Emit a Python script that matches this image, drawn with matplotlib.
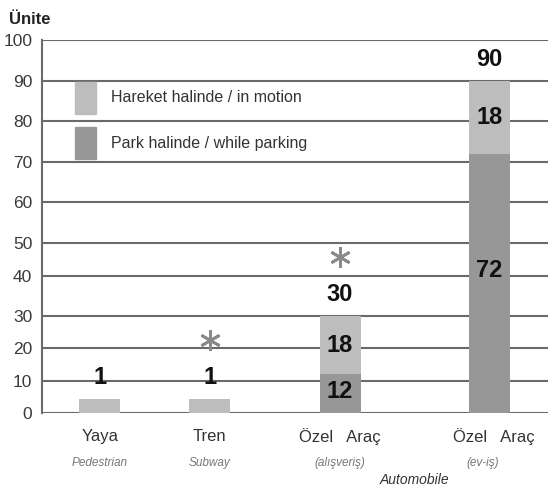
import numpy as np
import matplotlib
matplotlib.use("Agg")
import matplotlib.pyplot as plt
from matplotlib.patches import Patch
from matplotlib.transforms import ScaledTranslation

# --- DATA ---
categories = ["Yaya", "Tren", "Özel   Araç", "Özel   Araç"]
subtitles = ["Pedestrian", "Subway", "(alışveriş)", "(ev-iş)"]
parking = [0, 0, 12, 72]       # Park halinde / while parking
motion = [1, 1, 18, 18]        # Hareket halinde / in motion
starred = [False, True, True, False]
y_ticks = [0, 10, 20, 30, 40, 50, 60, 70, 80, 90, 100]

# --- STYLE / LAYOUT ---
LIGHT = "#bdbdbd"
DARK = "#979797"
GRID = "#6a6a6a"
plt.rcParams["font.family"] = ["Liberation Sans", "DejaVu Sans"]

# bar centres in bar-width units (the original is not evenly spaced)
xpos = [1.41, 4.09, 7.27, 10.91]
title_dx = [0, 0, 0, 5]    # px nudges for the category titles
sub_dx = [0, 0, 0, -7]
MIN_H = 4.4  # tiny bars drawn taller so they show, like the original

# the original axis is hand drawn: gridlines are not evenly spaced
grid_px = np.array([413, 381, 348, 316, 275.7, 243, 202, 161.7, 120.7, 81, 40])
grid_pos = grid_px[0] - grid_px


def fwd(v):
    return np.interp(v, y_ticks, grid_pos)


def inv(p):
    return np.interp(p, grid_pos, y_ticks)


fig = plt.figure(figsize=(5.48, 4.95), dpi=100)
ax = fig.add_axes([42 / 548, (495 - 413) / 495, 506 / 548, 373 / 495])
ax.set_yscale("function", functions=(fwd, inv))
ax.set_ylim(0, 100)
ax.set_xlim(0, 506 / 41)

for v in y_ticks:
    ax.axhline(v, color=GRID, lw=1.5, zorder=1)

park_h = np.array(parking, dtype=float)
mot_h = np.array(motion, dtype=float)
tot = park_h + mot_h
# stretch the small bars so they are visible
mot_draw = np.where(tot < MIN_H, MIN_H - park_h, mot_h)

ax.bar(xpos, park_h, width=1, color=DARK, zorder=2)
ax.bar(xpos, mot_draw, bottom=park_h, width=1, color=LIGHT, zorder=2)

star_shift = ax.transData + ScaledTranslation(0, 0.59, fig.dpi_scale_trans)

for x, p, m, md, s in zip(xpos, park_h, mot_h, mot_draw, starred):
    top = p + md
    ax.annotate(f"{int(p + m)}", (x, top), xytext=(0, 7), textcoords="offset points",
                ha="center", va="bottom", fontsize=17, fontweight="bold", color="#111111")
    if s:
        # asterisk over the bar
        ax.plot([x], [top], marker=(6, 2, 0), ms=15, mew=2.0, color="#8a8a8a",
                transform=star_shift, clip_on=False, zorder=3)
    if p > 0:
        # segment labels placed in display space
        mid_p = inv(0.55 * fwd(p))
        mid_m = inv((fwd(p) + fwd(p + m)) / 2)
        ax.text(x, mid_p, f"{int(p)}", ha="center", va="center", fontsize=17,
                fontweight="bold", color="#111111", zorder=3)
        ax.text(x, mid_m, f"{int(m)}", ha="center", va="center", fontsize=17,
                fontweight="bold", color="#111111", zorder=3)

# category labels under the axis
for x, c, s, dx, sdx in zip(xpos, categories, subtitles, title_dx, sub_dx):
    ax.annotate(c, (x, 0), xycoords=("data", "axes fraction"), xytext=(dx * 0.72, -17),
                textcoords="offset points", ha="center", va="center", fontsize=12,
                color="#333333", annotation_clip=False)
    ax.annotate(s, (x, 0), xycoords=("data", "axes fraction"), xytext=(sdx * 0.72, -36),
                textcoords="offset points", ha="center", va="center", fontsize=8.5,
                style="italic", color="#777777", annotation_clip=False)
ax.annotate("Automobile", ((xpos[2] + xpos[3]) / 2, 0), xycoords=("data", "axes fraction"),
            xytext=(0, -48), textcoords="offset points", ha="center", va="center",
            fontsize=10, style="italic", color="#333333", annotation_clip=False)

ax.set_yticks(y_ticks)
ax.set_yticklabels([str(t) for t in y_ticks])
ax.tick_params(axis="y", length=0, labelsize=12.5, labelcolor="#3a3a3a", pad=7)
ax.set_xticks([])
for side in ["top", "right", "bottom"]:
    ax.spines[side].set_visible(False)
ax.spines["left"].set_color(GRID)
ax.spines["left"].set_linewidth(1.5)

fig.text(30 / 548, 1 - 20 / 495, "Ünite", ha="center", va="center", fontsize=12,
         fontweight="bold", color="#222222")

handles = [Patch(color=LIGHT, label="Hareket halinde / in motion"),
           Patch(color=DARK, label="Park halinde / while parking")]
ax.legend(handles=handles, loc="upper left", bbox_to_anchor=(0.037, 0.927),
          frameon=False, fontsize=11.5, handlelength=1.3, handleheight=2.7,
          labelspacing=0.85, handletextpad=0.95, labelcolor="#333333")

fig.savefig("out.png", dpi=100)
